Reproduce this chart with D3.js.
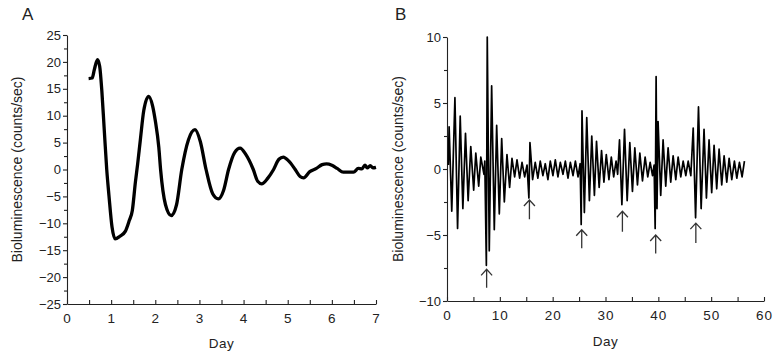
<!DOCTYPE html>
<html>
<head>
<meta charset="utf-8">
<script src="https://cdn.jsdelivr.net/npm/d3@7"></script>
<style>
    body { margin: 0; background: #fff; }
    svg { display: block; font-family: "Liberation Sans", Arial, sans-serif; }
    .axis path, .axis line { stroke: #222; }
    .axis text { fill: #222; }
</style>
</head>
<body>
<div id="container"></div>
<script>
// Panel A: damped rhythm, [day, counts/sec]
const traceA = [
    [0.49, 16.9], [0.57, 17.0], [0.62, 18.6], [0.69, 20.4], [0.74, 19.2],
    [0.79, 14.5], [0.84, 7.9], [0.9, 0], [0.95, -4.8], [1.02, -10.7],
    [1.09, -12.9], [1.2, -12.4], [1.32, -11.5], [1.41, -9.5], [1.48, -7.6],
    [1.55, -2.3], [1.6, 1.0], [1.66, 5.4], [1.74, 11.0], [1.85, 13.6],
    [1.94, 11.8], [2.0, 9.1], [2.08, 4.1], [2.12, 0], [2.23, -6.5],
    [2.36, -8.55], [2.48, -6.6], [2.6, 0], [2.75, 5.5], [2.9, 7.4],
    [3.02, 5.2], [3.15, 0], [3.3, -4.5], [3.43, -5.45], [3.55, -3.8],
    [3.66, 0], [3.8, 3.2], [3.92, 3.96], [4.05, 2.8], [4.22, 0],
    [4.32, -2.2], [4.41, -2.66], [4.55, -1.6], [4.68, 0], [4.8, 1.9],
    [4.9, 2.3], [5.02, 1.6], [5.17, 0], [5.28, -1.3], [5.36, -1.55],
    [5.5, -0.4], [5.65, 0.2], [5.78, 0.9], [5.88, 1.05], [6.0, 0.8],
    [6.12, 0.2], [6.26, -0.5], [6.49, -0.5], [6.6, 0.2], [6.68, 0.1],
    [6.75, 0.8], [6.8, 0.3], [6.87, 0.7], [6.93, 0.3], [7.0, 0.4],
];

// Panel B: long recording with resets, [day, counts/sec]
const traceB = [
    [0.25, 0.3], [0.4, 3.2], [0.9, -3.2], [1.5, 5.4], [2.0, -4.5],
    [2.5, 4.0], [3.0, -3.0], [3.5, 2.7], [4.0, -2.4], [4.5, 1.7],
    [5.05, -1.6], [5.45, 1.2], [6.0, -1.3], [6.4, 0.9], [7.0, -0.4],
    [7.15, 0.6], [7.45, -7.3], [7.62, 10.0], [8.0, -6.2], [8.45, 6.3],
    [8.95, -4.6], [9.4, 3.3], [9.9, -3.4], [10.35, 2.3], [10.85, -2.5],
    [11.35, 1.1], [11.85, -1.4], [12.3, 0.8], [12.8, -0.6], [13.25, 0.7],
    [13.75, -0.7], [14.2, 0.5], [14.7, -0.6], [15.15, 0.3], [15.5, -2.2],
    [15.7, 2.0], [16.2, -0.8], [16.7, 0.5], [17.2, -0.7], [17.65, 0.6],
    [18.15, -0.5], [18.6, 0.4], [19.1, -0.8], [19.55, 0.6], [20.05, -0.5],
    [20.5, 0.7], [21.0, -0.6], [21.45, 0.5], [21.95, -0.4], [22.4, 0.6],
    [22.9, -0.7], [23.35, 0.5], [23.85, -0.5], [24.3, 0.6], [24.8, -0.6],
    [25.2, 0.4], [25.4, -4.2], [25.55, 4.4], [26.0, -3.3], [26.45, 3.9],
    [26.95, -2.4], [27.4, 2.5], [27.9, -2.0], [28.3, 2.1], [28.8, -1.4],
    [29.25, 1.4], [29.7, -1.0], [30.15, 1.1], [30.65, -0.8], [31.1, 0.9],
    [31.55, -0.6], [32.0, 0.6], [32.3, -0.4], [32.65, 2.2], [33.1, -2.7],
    [33.6, 3.0], [34.1, -2.4], [34.6, 2.0], [35.1, -1.7], [35.55, 1.6],
    [36.05, -1.2], [36.5, 1.2], [37.0, -0.9], [37.5, 0.9], [38.0, -0.6],
    [38.45, 0.5], [38.9, -0.5], [39.2, 0.3], [39.4, -4.5], [39.58, 7.0],
    [39.75, -3.0], [39.95, 3.6], [40.45, -2.0], [40.9, 2.2], [41.4, -1.3],
    [41.85, 1.6], [42.35, -1.0], [42.8, 1.0], [43.3, -0.8], [43.75, 0.9],
    [44.25, -0.6], [44.7, 0.6], [45.2, -0.5], [45.65, 0.6], [46.15, -0.5],
    [46.6, 3.1], [47.05, -3.7], [47.6, 4.7], [48.1, -3.0], [48.65, 3.0],
    [49.1, -2.2], [49.6, 2.2], [50.1, -1.8], [50.55, 1.8], [51.05, -1.5],
    [51.5, 1.5], [52.0, -1.2], [52.45, 1.0], [52.95, -1.0], [53.4, 0.8],
    [53.9, -0.8], [54.4, 0.6], [54.85, -0.7], [55.35, 0.5], [55.85, -0.6],
    [56.3, 0.6],
];

// arrows under the resets in panel B
const arrowDays = [7.5, 15.6, 25.5, 33.2, 39.5, 47.1];
const arrowTips = [-7.6, -2.35, -4.6, -3.2, -5.0, -4.1];
const arrowEnds = [-9.0, -3.8, -6.0, -4.75, -6.4, -5.6];

// tick labels
const ticksAx = [0, 1, 2, 3, 4, 5, 6, 7];
const ticksAy = [-25, -20, -15, -10, -5, 0, 5, 10, 15, 20, 25];
const ticksBx = [0, 10, 20, 30, 40, 50, 60];
const ticksBy = [-10, -5, 0, 5, 10];

const yTitle = 'Bioluminescence (counts/sec)';
const xTitle = 'Day';

const svg = d3.select('#container')
    .append('svg')
        .attr('width', 773)
        .attr('height', 358);

function halves(ticks) {
    const step = ticks[1] - ticks[0];
    return ticks.slice(0, -1).map(t => t + step / 2);
}

function drawPanel(opts) {
    const x = d3.scaleLinear().domain(opts.xDomain).range(opts.xRange);
    const y = d3.scaleLinear().domain(opts.yDomain).range(opts.yRange);
    const g = svg.append('g');
    const fmt = d3.format('d');

    // y axis, ticks outward
    g.append('g')
        .attr('class', 'axis')
        .attr('transform', `translate(${opts.xRange[0]},0)`)
        .call(d3.axisLeft(y).tickValues(opts.yTicks).tickFormat(fmt)
            .tickSize(4).tickSizeOuter(0).tickPadding(2))
        .call(s => s.selectAll('text').attr('font-size', 13));
    g.append('g')
        .attr('class', 'axis')
        .attr('transform', `translate(${opts.xRange[0]},0)`)
        .call(d3.axisLeft(y).tickValues(halves(opts.yTicks)).tickSize(3).tickFormat(''))
        .call(s => s.select('.domain').remove());

    // x axis, ticks inward
    g.append('g')
        .attr('class', 'axis')
        .attr('transform', `translate(0,${opts.yRange[0]})`)
        .call(d3.axisBottom(x).tickValues(opts.xTicks).tickFormat(fmt)
            .tickSize(-4).tickSizeOuter(0).tickPadding(9))
        .call(s => s.selectAll('text').attr('font-size', 13.5).attr('letter-spacing', 1));
    g.append('g')
        .attr('class', 'axis')
        .attr('transform', `translate(0,${opts.yRange[0]})`)
        .call(d3.axisBottom(x).tickValues(halves(opts.xTicks)).tickSize(-4).tickFormat(''))
        .call(s => s.select('.domain').remove());

    g.selectAll('.axis path, .axis line').attr('stroke-width', 1.1);

    // titles
    g.append('text')
        .attr('x', (opts.xRange[0] + opts.xRange[1]) / 2)
        .attr('y', opts.xTitleY)
        .attr('text-anchor', 'middle')
        .attr('font-size', 13.5)
        .attr('letter-spacing', 0.5)
        .attr('fill', '#222')
        .text(xTitle);
    g.append('text')
        .attr('transform', `translate(${opts.yTitleX},${y(0)}) rotate(-90)`)
        .attr('text-anchor', 'middle')
        .attr('font-size', 14)
        .attr('fill', '#222')
        .text(yTitle);
    g.append('text')
        .attr('x', opts.letterX)
        .attr('y', 20)
        .attr('font-size', 17)
        .attr('fill', '#222')
        .text(opts.letter);

    // trace
    g.append('path')
        .datum(opts.trace)
        .attr('fill', 'none')
        .attr('stroke', '#000')
        .attr('stroke-width', opts.lineWidth)
        .attr('stroke-linejoin', 'round')
        .attr('d', d3.line().x(d => x(d[0])).y(d => y(d[1])).curve(opts.curve));

    return { g, x, y };
}

drawPanel({
    letter: 'A', letterX: 22,
    trace: traceA, curve: d3.curveMonotoneX, lineWidth: 3.3,
    xDomain: [0, 7], xRange: [67, 376],
    yDomain: [-25, 25], yRange: [304, 35],
    xTicks: ticksAx, yTicks: ticksAy,
    xTitleY: 348, yTitleX: 22,
});

const panelB = drawPanel({
    letter: 'B', letterX: 395,
    trace: traceB, curve: d3.curveLinear, lineWidth: 1.7,
    xDomain: [0, 60], xRange: [447, 764],
    yDomain: [-10, 10], yRange: [301, 37],
    xTicks: ticksBx, yTicks: ticksBy,
    xTitleY: 346, yTitleX: 403,
});

// arrows
const arrows = arrowDays.map((d, i) => ({ day: d, tip: arrowTips[i], end: arrowEnds[i] }));
const ag = panelB.g.append('g')
    .attr('fill', 'none')
    .attr('stroke', '#333')
    .attr('stroke-width', 1.3);
ag.selectAll('path')
    .data(arrows)
    .enter()
    .append('path')
        .attr('d', d => {
            const ax = panelB.x(d.day), ty = panelB.y(d.tip), by = panelB.y(d.end);
            return `M${ax},${by}V${ty}M${ax - 5.5},${ty + 6}L${ax},${ty}L${ax + 5.5},${ty + 6}`;
        });
</script>
</body>
</html>
